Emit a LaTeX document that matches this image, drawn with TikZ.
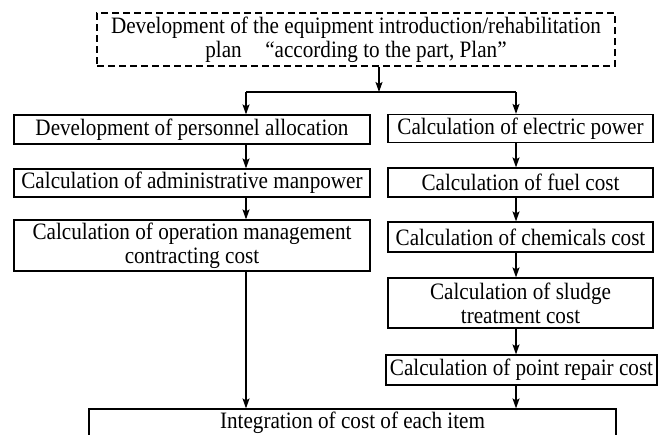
\documentclass[tikz,border=0pt]{standalone}
\usepackage{fontspec}
\setmainfont{Liberation Serif}[FakeStretch=0.9]
\usetikzlibrary{arrows.meta}
\begin{document}
\begin{tikzpicture}[x=1pt, y=1pt,
  box/.style={draw, line width=1.2pt, inner sep=0pt, align=center, font=\fontsize{23.5}{24}\selectfont},
  dbox/.style={box, dashed, dash pattern=on 7pt off 4pt},
  arr/.style={line width=1.2pt, -{Stealth[length=10pt, width=7pt, inset=2pt]}}]
\useasboundingbox (0,0) rectangle (660,-434);
\clip (0,0) rectangle (660,-434);
\node[dbox, minimum width=518, minimum height=53] (plan) at (356,-39.5){Development of the equipment introduction/rehabilitation\\plan\quad ``according to the part, Plan''};
\node[box, minimum width=356, minimum height=29] (pers) at (192,-129.5){Development of personnel allocation};
\node[box, minimum width=356, minimum height=28] (admin) at (192,-183){Calculation of administrative manpower};
\node[box, minimum width=356, minimum height=51] (oper) at (192,-245.5){Calculation of operation management\\contracting cost};
\node[box, minimum width=265, minimum height=28] (elec) at (520.5,-128.5){Calculation of electric power};
\node[box, minimum width=265, minimum height=29] (fuel) at (520.5,-182.5){Calculation of fuel cost};
\node[box, minimum width=265, minimum height=30] (chem) at (520.5,-237){Calculation of chemicals cost};
\node[box, minimum width=265, minimum height=50] (sludge) at (520.5,-303){Calculation of sludge\\treatment cost};
\node[box, minimum width=271, minimum height=30] (repair) at (521.5,-370){Calculation of point repair cost};
\node[box, minimum width=527, minimum height=27] (integ) at (352.5,-422.5){Integration of cost of each item};
\coordinate (jn) at (379,-92);
\coordinate (jl) at (246,-92);
\coordinate (jr) at (516,-92);
\draw[arr](plan.south -| jn) -- (jn);
\draw[line width=1.2pt](jl) -- (jr);
\draw[arr](jl) -- (jl |- pers.north);
\draw[arr](jr) -- (jr |- elec.north);
\draw[arr](pers.south -| jl) -- (admin.north -| jl);
\draw[arr](admin.south -| jl) -- (oper.north -| jl);
\draw[arr](oper.south -| jl) -- (integ.north -| jl);
\draw[arr](elec.south -| jr) -- (fuel.north -| jr);
\draw[arr](fuel.south -| jr) -- (chem.north -| jr);
\draw[arr](chem.south -| jr) -- (sludge.north -| jr);
\draw[arr](sludge.south -| jr) -- (repair.north -| jr);
\draw[arr](repair.south -| jr) -- (integ.north -| jr);
\end{tikzpicture}
\end{document}
